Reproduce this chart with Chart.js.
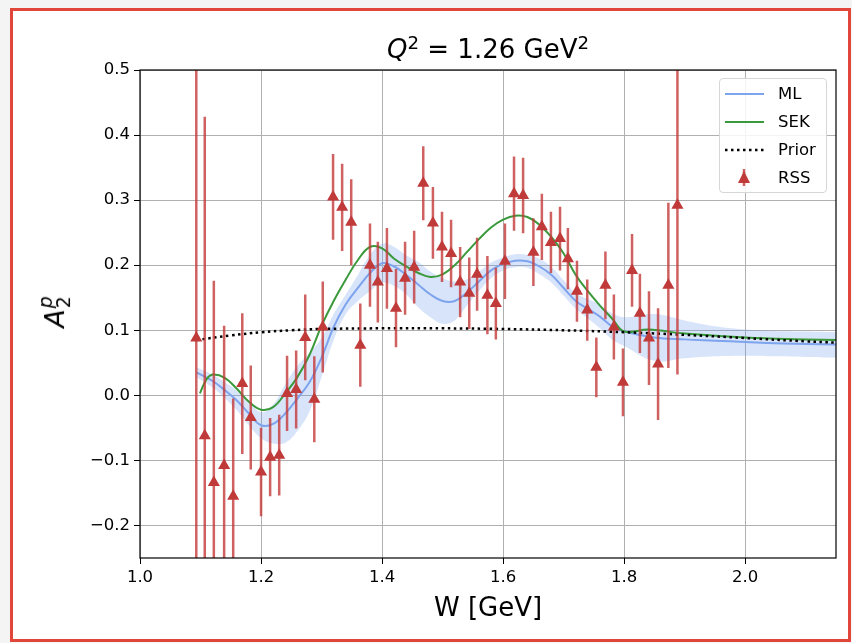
<!DOCTYPE html>
<html>
<head>
<meta charset="utf-8">
<script src="https://cdn.jsdelivr.net/npm/chart.js@4.4.1/dist/chart.umd.min.js"></script>
<style>
html,body{margin:0;padding:0;background:#f4f4f4;}
#wrap{position:relative;width:852px;height:643px;overflow:hidden;font-family:'DejaVu Sans',sans-serif;color:#000;}
#frame{position:absolute;left:10px;top:8px;width:841px;height:634px;box-sizing:border-box;border:3px solid #e0463a;background:#fff;}
#chart{position:absolute;left:0;top:0;}
#title{position:absolute;left:140px;width:696px;top:36px;text-align:center;font-size:26px;line-height:26px;white-space:nowrap;}
#ylabel{position:absolute;left:57px;top:312px;font-size:27px;line-height:27px;white-space:nowrap;transform:translate(-50%,-50%) rotate(-90deg);}
.sup{font-size:0.7em;position:relative;top:-0.5em;}
.stack{display:inline-block;vertical-align:middle;font-size:0.7em;line-height:0.95em;text-align:left;margin-left:1px;position:relative;top:-0.1em;}
#legend{position:absolute;left:719px;top:78px;width:108px;height:115px;box-sizing:border-box;border:1px solid #d6d6d6;border-radius:4px;background:rgba(255,255,255,0.85);}
#legend svg{position:absolute;left:0;top:0;}
.lt{position:absolute;left:58px;font-size:16.5px;line-height:20px;white-space:nowrap;}
</style>
</head>
<body>
<div id="wrap">
  <div id="frame"></div>
  <canvas id="chart" width="852" height="643"></canvas>
  <div id="title"><i>Q</i><span class="sup">2</span> = 1.26 GeV<span class="sup">2</span></div>
  <div id="ylabel"><i>A</i><span class="stack"><i>p</i><br>2</span></div>
  <div id="legend">
    <svg width="108" height="115">
      <line x1="5" y1="15" x2="44" y2="15" stroke="#7ea4ee" stroke-width="2"></line>
      <line x1="5" y1="43" x2="44" y2="43" stroke="#3a993a" stroke-width="2"></line>
      <line x1="5" y1="71" x2="44" y2="71" stroke="#000" stroke-width="2.5" stroke-dasharray="2.5,3.5"></line>
      <line x1="24" y1="90" x2="24" y2="107" stroke="rgba(196,58,58,0.8)" stroke-width="2.5"></line>
      <polygon points="24,92 30,104 18,104" fill="#c03a3a"></polygon>
    </svg>
    <div class="lt" style="top:5px">ML</div>
    <div class="lt" style="top:33px">SEK</div>
    <div class="lt" style="top:61px">Prior</div>
    <div class="lt" style="top:89px">RSS</div>
  </div>
</div>
<script>
'use strict';
// RSS data points (W, A2p, error)
var rssW=[1.093,1.107,1.122,1.139,1.154,1.169,1.183,1.200,1.215,1.230,1.243,1.258,1.273,1.288,1.302,1.319,1.334,1.349,1.364,1.380,1.393,1.408,1.423,1.438,1.453,1.468,1.484,1.499,1.514,1.529,1.544,1.557,1.574,1.588,1.603,1.618,1.633,1.650,1.664,1.679,1.694,1.707,1.722,1.739,1.754,1.769,1.783,1.798,1.813,1.826,1.841,1.856,1.873,1.888];
var rssA=[0.088,-0.062,-0.134,-0.108,-0.155,0.018,-0.034,-0.118,-0.095,-0.092,0.003,0.009,0.089,-0.006,0.105,0.305,0.289,0.266,0.077,0.200,0.174,0.195,0.134,0.180,0.197,0.326,0.265,0.228,0.218,0.174,0.157,0.186,0.154,0.141,0.206,0.310,0.307,0.220,0.259,0.235,0.241,0.210,0.160,0.131,0.043,0.169,0.105,0.020,0.192,0.126,0.088,0.048,0.169,0.292];
var rssErr=[0.70,0.49,0.31,0.215,0.15,0.108,0.08,0.068,0.060,0.062,0.058,0.060,0.066,0.066,0.070,0.066,0.067,0.066,0.064,0.064,0.062,0.062,0.060,0.056,0.056,0.057,0.055,0.054,0.052,0.054,0.055,0.056,0.060,0.055,0.058,0.057,0.058,0.052,0.051,0.047,0.049,0.047,0.047,0.047,0.046,0.052,0.050,0.052,0.056,0.061,0.072,0.086,0.127,0.26];

// ML curve and its band
var mlW=[1.094,1.12,1.14,1.16,1.18,1.20,1.22,1.24,1.26,1.28,1.30,1.32,1.34,1.36,1.38,1.40,1.42,1.44,1.46,1.48,1.50,1.52,1.54,1.56,1.58,1.60,1.62,1.64,1.66,1.68,1.70,1.72,1.74,1.76,1.78,1.80,1.85,1.90,1.95,2.00,2.05,2.10,2.15];
var mlA=[0.035,0.022,0.008,-0.008,-0.028,-0.046,-0.044,-0.028,-0.005,0.020,0.058,0.105,0.140,0.165,0.188,0.203,0.198,0.185,0.170,0.155,0.145,0.145,0.158,0.175,0.192,0.202,0.207,0.206,0.198,0.185,0.165,0.145,0.133,0.121,0.106,0.098,0.089,0.086,0.084,0.082,0.080,0.079,0.078];
var mlUpper=[0.043,0.032,0.020,0.007,-0.010,-0.026,-0.014,0.017,0.045,0.065,0.088,0.125,0.155,0.185,0.216,0.233,0.228,0.215,0.205,0.190,0.180,0.175,0.178,0.190,0.204,0.212,0.217,0.216,0.210,0.197,0.177,0.157,0.148,0.139,0.126,0.120,0.125,0.115,0.106,0.101,0.099,0.098,0.097];
var mlLower=[0.027,0.012,-0.004,-0.023,-0.046,-0.066,-0.074,-0.073,-0.055,-0.025,0.028,0.085,0.125,0.145,0.160,0.173,0.168,0.155,0.135,0.120,0.110,0.115,0.138,0.160,0.180,0.192,0.197,0.196,0.186,0.173,0.153,0.133,0.118,0.103,0.086,0.076,0.053,0.057,0.060,0.061,0.060,0.059,0.058];

// SEK curve
var sekW=[1.099,1.11,1.12,1.14,1.16,1.18,1.20,1.22,1.24,1.26,1.28,1.30,1.32,1.34,1.36,1.38,1.40,1.42,1.44,1.46,1.48,1.50,1.52,1.54,1.56,1.58,1.60,1.62,1.64,1.66,1.68,1.70,1.72,1.74,1.76,1.78,1.80,1.84,1.90,2.00,2.10,2.15];
var sekA=[0.003,0.025,0.032,0.027,0.010,-0.010,-0.022,-0.018,0.003,0.028,0.062,0.107,0.145,0.178,0.208,0.228,0.226,0.210,0.198,0.188,0.182,0.186,0.200,0.220,0.240,0.258,0.270,0.276,0.274,0.262,0.243,0.218,0.185,0.160,0.138,0.118,0.098,0.101,0.095,0.089,0.086,0.085];

// Prior
var priorW=[1.093,1.15,1.20,1.25,1.30,1.40,1.50,1.60,1.70,1.80,1.90,2.00,2.10,2.15];
var priorA=[0.085,0.092,0.097,0.100,0.102,0.103,0.103,0.102,0.100,0.097,0.093,0.088,0.083,0.081];

var xTicks=[1.0,1.2,1.4,1.6,1.8,2.0];
var yTicks=[-0.2,-0.1,0.0,0.1,0.2,0.3,0.4,0.5];

function toPoints(xs,ys){
  var out=[];
  for(var i=0;i<xs.length;i++){
    out.push({x:xs[i],y:ys[i]});
  }
  return out;
}

var barPoints=[];
for(var i=0;i<rssW.length;i++){
  barPoints.push({x:rssW[i],y:rssA[i]-rssErr[i]});
  barPoints.push({x:rssW[i],y:rssA[i]+rssErr[i]});
  barPoints.push({x:rssW[i],y:null});
}

var frameBox={
  id:'frameBox',
  afterDatasetsDraw:function(chart){
    var a=chart.chartArea;
    var ctx=chart.ctx;
    ctx.save();
    ctx.strokeStyle='#000';
    ctx.lineWidth=1.2;
    ctx.strokeRect(a.left,a.top,a.right-a.left,a.bottom-a.top);
    ctx.restore();
  }
};

function fmt(v){
  return v.toFixed(1).replace('-','\u2212');
}

var ctx=document.getElementById('chart').getContext('2d');
var chart=new Chart(ctx,{
  type:'line',
  data:{
    datasets:[
      {label:'band upper',data:toPoints(mlW,mlUpper),borderWidth:0,pointRadius:0,fill:'+1',backgroundColor:'rgba(100,149,237,0.25)',tension:0.4,order:6},
      {label:'band lower',data:toPoints(mlW,mlLower),borderWidth:0,pointRadius:0,fill:false,tension:0.4,order:6},
      {label:'ML',data:toPoints(mlW,mlA),borderColor:'#7ea4ee',borderWidth:2,pointRadius:0,fill:false,tension:0.4,order:5},
      {label:'SEK',data:toPoints(sekW,sekA),borderColor:'#3a993a',borderWidth:2,pointRadius:0,fill:false,tension:0.4,order:4},
      {label:'Prior',data:toPoints(priorW,priorA),borderColor:'#000',borderWidth:2.5,borderDash:[2.5,3.5],pointRadius:0,fill:false,tension:0.4,order:3},
      {label:'err',data:barPoints,borderColor:'rgba(196,58,58,0.8)',borderWidth:2.5,pointRadius:0,fill:false,spanGaps:false,order:2},
      {label:'RSS',data:toPoints(rssW,rssA),showLine:false,pointStyle:'triangle',pointRadius:7,pointBackgroundColor:'#c03a3a',pointBorderColor:'#c03a3a',pointBorderWidth:0,order:1}
    ]
  },
  options:{
    responsive:false,
    animation:false,
    devicePixelRatio:1,
    layout:{padding:{left:0,top:70,right:16,bottom:0}},
    plugins:{legend:{display:false},tooltip:{enabled:false},title:{display:false}},
    scales:{
      x:{
        type:'linear',min:1.0,max:2.15,
        afterBuildTicks:function(scale){scale.ticks=xTicks.map(function(v){return {value:v};});},
        afterFit:function(scale){scale.height=85;},
        ticks:{color:'#000',font:{family:'DejaVu Sans',size:16.5},padding:4,maxRotation:0,callback:function(v){return fmt(v);}},
        grid:{color:'#b0b0b0',lineWidth:1,tickColor:'#000',tickLength:6},
        border:{display:false},
        title:{display:true,text:'W [GeV]',color:'#000',font:{family:'DejaVu Sans',size:26},padding:{top:0,bottom:18}}
      },
      y:{
        type:'linear',min:-0.25,max:0.5,
        afterBuildTicks:function(scale){scale.ticks=yTicks.map(function(v){return {value:v};});},
        afterFit:function(scale){scale.width=140;},
        ticks:{color:'#000',font:{family:'DejaVu Sans',size:16.5},padding:4,callback:function(v){return fmt(v);}},
        grid:{color:'#b0b0b0',lineWidth:1,tickColor:'#000',tickLength:6},
        border:{display:false}
      }
    }
  },
  plugins:[frameBox]
});
</script>
</body>
</html>
